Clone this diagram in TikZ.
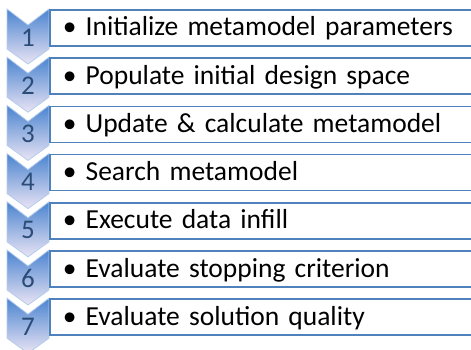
\documentclass[tikz,border=0pt]{standalone}
\usepackage{fontspec}
\setmainfont{Carlito}
\usetikzlibrary{positioning}

\definecolor{boxline}{HTML}{4F81BD}
\definecolor{chevtop}{HTML}{4A84D0}
\definecolor{chevmid}{HTML}{8FB9EC}
\definecolor{chevbot}{HTML}{EAE4F4}
\definecolor{chevline}{HTML}{B4CCEC}
\definecolor{numtext}{HTML}{2B4C76}

\tikzset{
  chevronpic/.pic={
    \path[top color=chevtop,middle color=chevmid,bottom color=chevbot,
      draw=chevline,line width=0.8pt]
      (-21,0) -- (0,-16) -- (21,0) -- (21,-40) -- (0,-55) -- (-21,-40) -- cycle;
  }
}

\begin{document}
\begin{tikzpicture}[
  x=1pt,y=1pt,
  num/.style={inner sep=0pt,text=numtext,font=\fontsize{27pt}{27pt}\selectfont},
  stepbox/.style={rectangle,draw=boxline,line width=1.6pt,fill=white,anchor=west,
    minimum height=36pt,text width=405pt,inner xsep=13pt,inner ysep=0pt,align=left,
    text height=18pt,text depth=2pt,font=\fontsize{27.5pt}{30pt}\selectfont}
]
\useasboundingbox (0,0) rectangle (471,349);

% chevrons
\pic at (28,340) {chevronpic};
\pic at (28,291.8) {chevronpic};
\pic at (28,243.6) {chevronpic};
\pic at (28,195.4) {chevronpic};
\pic at (28,147.2) {chevronpic};
\pic at (28,99) {chevronpic};
\pic at (28,50.8) {chevronpic};

% step numbers
\node[num] (n1) at (28,311.5) {1};
\node[num] (n2) [below=48.2pt of n1.center, anchor=center] {2};
\node[num] (n3) [below=48.2pt of n2.center, anchor=center] {3};
\node[num] (n4) [below=48.2pt of n3.center, anchor=center] {4};
\node[num] (n5) [below=48.2pt of n4.center, anchor=center] {5};
\node[num] (n6) [below=48.2pt of n5.center, anchor=center] {6};
\node[num] (n7) [below=48.2pt of n6.center, anchor=center] {7};

% text boxes
\node[stepbox] (b1) at (49,321) {\textbullet\ Initialize metamodel parameters};
\node[stepbox] (b2) at (49,272.8) {\textbullet\ Populate initial design space};
\node[stepbox] (b3) at (49,224.6) {\textbullet\ Update \& calculate metamodel};
\node[stepbox] (b4) at (49,176.4) {\textbullet\ Search metamodel};
\node[stepbox] (b5) at (49,128.2) {\textbullet\ Execute data infill};
\node[stepbox] (b6) at (49,80) {\textbullet\ Evaluate stopping criterion};
\node[stepbox] (b7) at (49,31.8) {\textbullet\ Evaluate solution quality};
\end{tikzpicture}
\end{document}
